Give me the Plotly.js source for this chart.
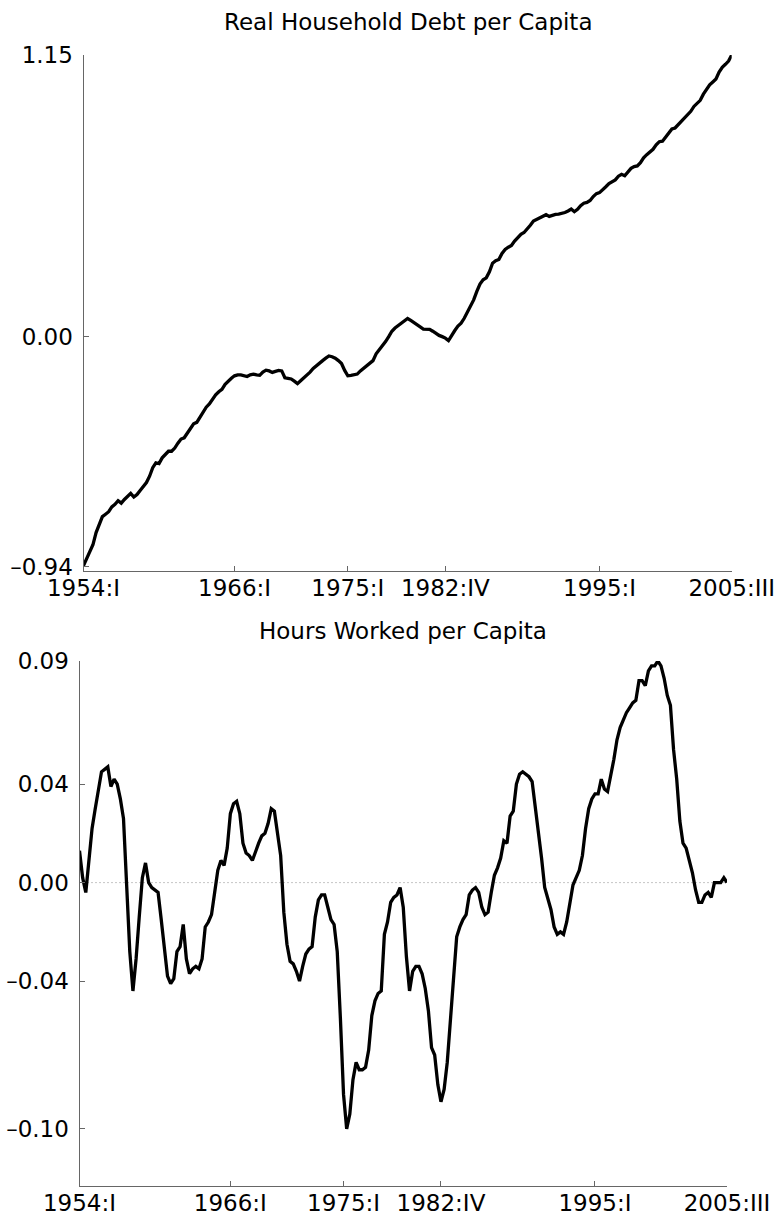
<!DOCTYPE html>
<html>
<head>
<meta charset="utf-8">
<script src="https://cdn.plot.ly/plotly-3.0.1.min.js"></script>
<style>
  html, body { margin: 0; padding: 0; background: #ffffff; }
  #chart { width: 779px; height: 1215px; }
</style>
</head>
<body>
<div id="chart"></div>
<script>
// Quarterly series, 1954:I .. 2005:III (207 quarters)
const startYear = 1954;

const debtPerCapita = [
  -0.935, -0.905, -0.875, -0.850, -0.800, -0.765, -0.735, -0.725, -0.715, -0.695,
  -0.685, -0.670, -0.680, -0.665, -0.650, -0.640, -0.655, -0.645, -0.628, -0.610,
  -0.596, -0.570, -0.535, -0.515, -0.518, -0.495, -0.480, -0.468, -0.468, -0.455,
  -0.435, -0.418, -0.413, -0.393, -0.370, -0.356, -0.350, -0.330, -0.310, -0.288,
  -0.275, -0.255, -0.238, -0.225, -0.215, -0.195, -0.180, -0.170, -0.160, -0.156,
  -0.156, -0.160, -0.163, -0.156, -0.153, -0.156, -0.158, -0.145, -0.137, -0.140,
  -0.146, -0.142, -0.138, -0.140, -0.168, -0.170, -0.173, -0.182, -0.192, -0.180,
  -0.169, -0.158, -0.145, -0.130, -0.118, -0.108, -0.098, -0.088, -0.079, -0.082,
  -0.088, -0.098, -0.110, -0.138, -0.160, -0.158, -0.156, -0.153, -0.140, -0.130,
  -0.118, -0.108, -0.098, -0.070, -0.055, -0.040, -0.020, 0.000, 0.022, 0.035,
  0.045, 0.055, 0.065, 0.074, 0.066, 0.056, 0.050, 0.040, 0.031, 0.030,
  0.030, 0.022, 0.012, 0.005, 0.000, -0.006, -0.016, 0.008, 0.025, 0.043,
  0.055, 0.075, 0.100, 0.128, 0.150, 0.185, 0.215, 0.232, 0.240, 0.265,
  0.300, 0.310, 0.315, 0.340, 0.356, 0.365, 0.372, 0.390, 0.405, 0.418,
  0.425, 0.438, 0.455, 0.472, 0.478, 0.486, 0.492, 0.498, 0.491, 0.496,
  0.499, 0.500, 0.502, 0.507, 0.513, 0.521, 0.510, 0.520, 0.535, 0.545,
  0.548, 0.556, 0.572, 0.584, 0.588, 0.598, 0.612, 0.625, 0.632, 0.640,
  0.655, 0.663, 0.657, 0.672, 0.687, 0.694, 0.697, 0.710, 0.730, 0.743,
  0.755, 0.765, 0.783, 0.796, 0.798, 0.815, 0.835, 0.848, 0.852, 0.866,
  0.880, 0.892, 0.905, 0.920, 0.940, 0.953, 0.965, 0.990, 1.012, 1.028,
  1.040, 1.052, 1.080, 1.100, 1.112, 1.125, 1.150
];

const hoursPerCapita = [
  0.013, 0.002, -0.004, 0.008, 0.022, 0.030, 0.038, 0.045, 0.046, 0.047,
  0.039, 0.042, 0.040, 0.034, 0.026, 0.000, -0.028, -0.044, -0.031, -0.014,
  0.002, 0.008, 0.000, -0.002, -0.003, -0.004, -0.015, -0.027, -0.038, -0.041,
  -0.039, -0.028, -0.026, -0.017, -0.031, -0.037, -0.035, -0.034, -0.035, -0.031,
  -0.018, -0.016, -0.013, -0.004, 0.005, 0.009, 0.007, 0.014, 0.028, 0.032,
  0.033, 0.028, 0.016, 0.012, 0.011, 0.009, 0.013, 0.016, 0.019, 0.020,
  0.024, 0.030, 0.029, 0.021, 0.011, -0.012, -0.025, -0.032, -0.033, -0.036,
  -0.040, -0.034, -0.029, -0.027, -0.026, -0.014, -0.007, -0.005, -0.005, -0.010,
  -0.015, -0.017, -0.028, -0.055, -0.086, -0.100, -0.094, -0.080, -0.073, -0.076,
  -0.076, -0.075, -0.068, -0.054, -0.048, -0.045, -0.044, -0.021, -0.016, -0.008,
  -0.006, -0.005, -0.002, -0.010, -0.030, -0.044, -0.036, -0.034, -0.034, -0.037,
  -0.043, -0.052, -0.067, -0.070, -0.082, -0.089, -0.084, -0.073, -0.056, -0.038,
  -0.022, -0.018, -0.015, -0.013, -0.005, -0.003, -0.002, -0.004, -0.010, -0.013,
  -0.012, -0.004, 0.003, 0.006, 0.010, 0.017, 0.016, 0.027, 0.029, 0.040,
  0.044, 0.045, 0.044, 0.043, 0.041, 0.031, 0.021, 0.010, -0.002, -0.007,
  -0.011, -0.018, -0.021, -0.020, -0.021, -0.016, -0.008, -0.001, 0.002, 0.005,
  0.011, 0.022, 0.030, 0.034, 0.036, 0.036, 0.042, 0.038, 0.037, 0.043,
  0.050, 0.058, 0.063, 0.066, 0.069, 0.071, 0.073, 0.074, 0.082, 0.082,
  0.080, 0.086, 0.088, 0.088, 0.090, 0.088, 0.083, 0.076, 0.072, 0.054,
  0.042, 0.025, 0.016, 0.014, 0.009, 0.004, -0.003, -0.008, -0.008, -0.005,
  -0.004, -0.006, 0.000, 0.000, 0.000, 0.002, 0.000
];

const xTickVals = [1954, 1966, 1975, 1982.75, 1995, 2005.5];
const xTickText = ['1954:I', '1966:I', '1975:I', '1982:IV', '1995:I', '2005:III'];

const debtTickVals = [-0.94, 0, 1.15];
const debtTickText = ['\u20130.94', '0.00', '1.15'];

const hoursTickVals = [-0.10, -0.04, 0, 0.04, 0.09];
const hoursTickText = ['\u20130.10', '\u20130.04', '0.00', '0.04', '0.09'];

const titles = ['Real Household Debt per Capita', 'Hours Worked per Capita'];

// quarter dates as decimal years
const xDebt = debtPerCapita.map((_, i) => startYear + i / 4);
const xHours = hoursPerCapita.map((_, i) => startYear + i / 4);

const FONT = 'DejaVu Sans, Liberation Sans, Arial, sans-serif';
const AX = '#666666';

function xAxis(domain) {
  return {
    domain: domain, range: [1954, 2005.5], autorange: false,
    tickmode: 'array', tickvals: xTickVals, ticktext: xTickText,
    ticks: 'inside', ticklen: 5, tickwidth: 1, tickcolor: AX,
    showline: true, linecolor: AX, linewidth: 1,
    showgrid: false, zeroline: false, mirror: false,
    tickfont: { family: FONT, size: 23, color: '#000' },
    ticklabelstandoff: -4, automargin: false, fixedrange: true
  };
}
function yAxis(domain, range, vals, text) {
  return {
    domain: domain, range: range, autorange: false,
    tickmode: 'array', tickvals: vals, ticktext: text,
    ticks: 'inside', ticklen: 5, tickwidth: 1, tickcolor: AX,
    showline: true, linecolor: AX, linewidth: 1,
    showgrid: false, zeroline: false, mirror: false,
    tickfont: { family: FONT, size: 23, color: '#000' },
    ticklabelstandoff: 5, automargin: false, fixedrange: true
  };
}

const traces = [
  { x: xDebt, y: debtPerCapita, xaxis: 'x', yaxis: 'y', type: 'scatter', mode: 'lines',
    line: { color: '#000000', width: 3.3 }, hoverinfo: 'skip', showlegend: false },
  { x: xHours, y: hoursPerCapita, xaxis: 'x2', yaxis: 'y2', type: 'scatter', mode: 'lines',
    line: { color: '#000000', width: 3.3 }, hoverinfo: 'skip', showlegend: false }
];

const layout = {
  width: 779, height: 1215,
  margin: { l: 0, r: 0, t: 0, b: 0, pad: 0 },
  paper_bgcolor: '#ffffff', plot_bgcolor: '#ffffff',
  showlegend: false,
  font: { family: FONT, size: 23, color: '#000' },
  xaxis: xAxis([83.5 / 779, 731.7 / 779]),
  yaxis: yAxis([1 - 571 / 1215, 1 - 55 / 1215], [-0.957, 1.15], debtTickVals, debtTickText),
  xaxis2: Object.assign(xAxis([79.5 / 779, 727 / 779]), { anchor: 'y2' }),
  yaxis2: Object.assign(yAxis([1 - 1186 / 1215, 1 - 661 / 1215], [-0.1232, 0.09], hoursTickVals, hoursTickText), { anchor: 'x2' }),
  shapes: [
    { type: 'line', xref: 'x2', yref: 'y2', x0: 1954, x1: 2005.5, y0: 0, y1: 0,
      line: { color: '#8a8a8a', width: 1, dash: '1px,3px' }, layer: 'below' }
  ],
  annotations: [
    { text: titles[0], xref: 'paper', yref: 'paper', x: (83.5 + 731.7) / 2 / 779, y: 1 - 22 / 1215,
      xanchor: 'center', yanchor: 'middle', showarrow: false,
      font: { family: FONT, size: 23, color: '#000' } },
    { text: titles[1], xref: 'paper', yref: 'paper', x: (79.5 + 727) / 2 / 779, y: 1 - 631 / 1215,
      xanchor: 'center', yanchor: 'middle', showarrow: false,
      font: { family: FONT, size: 23, color: '#000' } }
  ]
};
layout.xaxis.anchor = 'y';
layout.yaxis.anchor = 'x';

Plotly.newPlot('chart', traces, layout, { staticPlot: true, displayModeBar: false });
</script>
</body>
</html>
